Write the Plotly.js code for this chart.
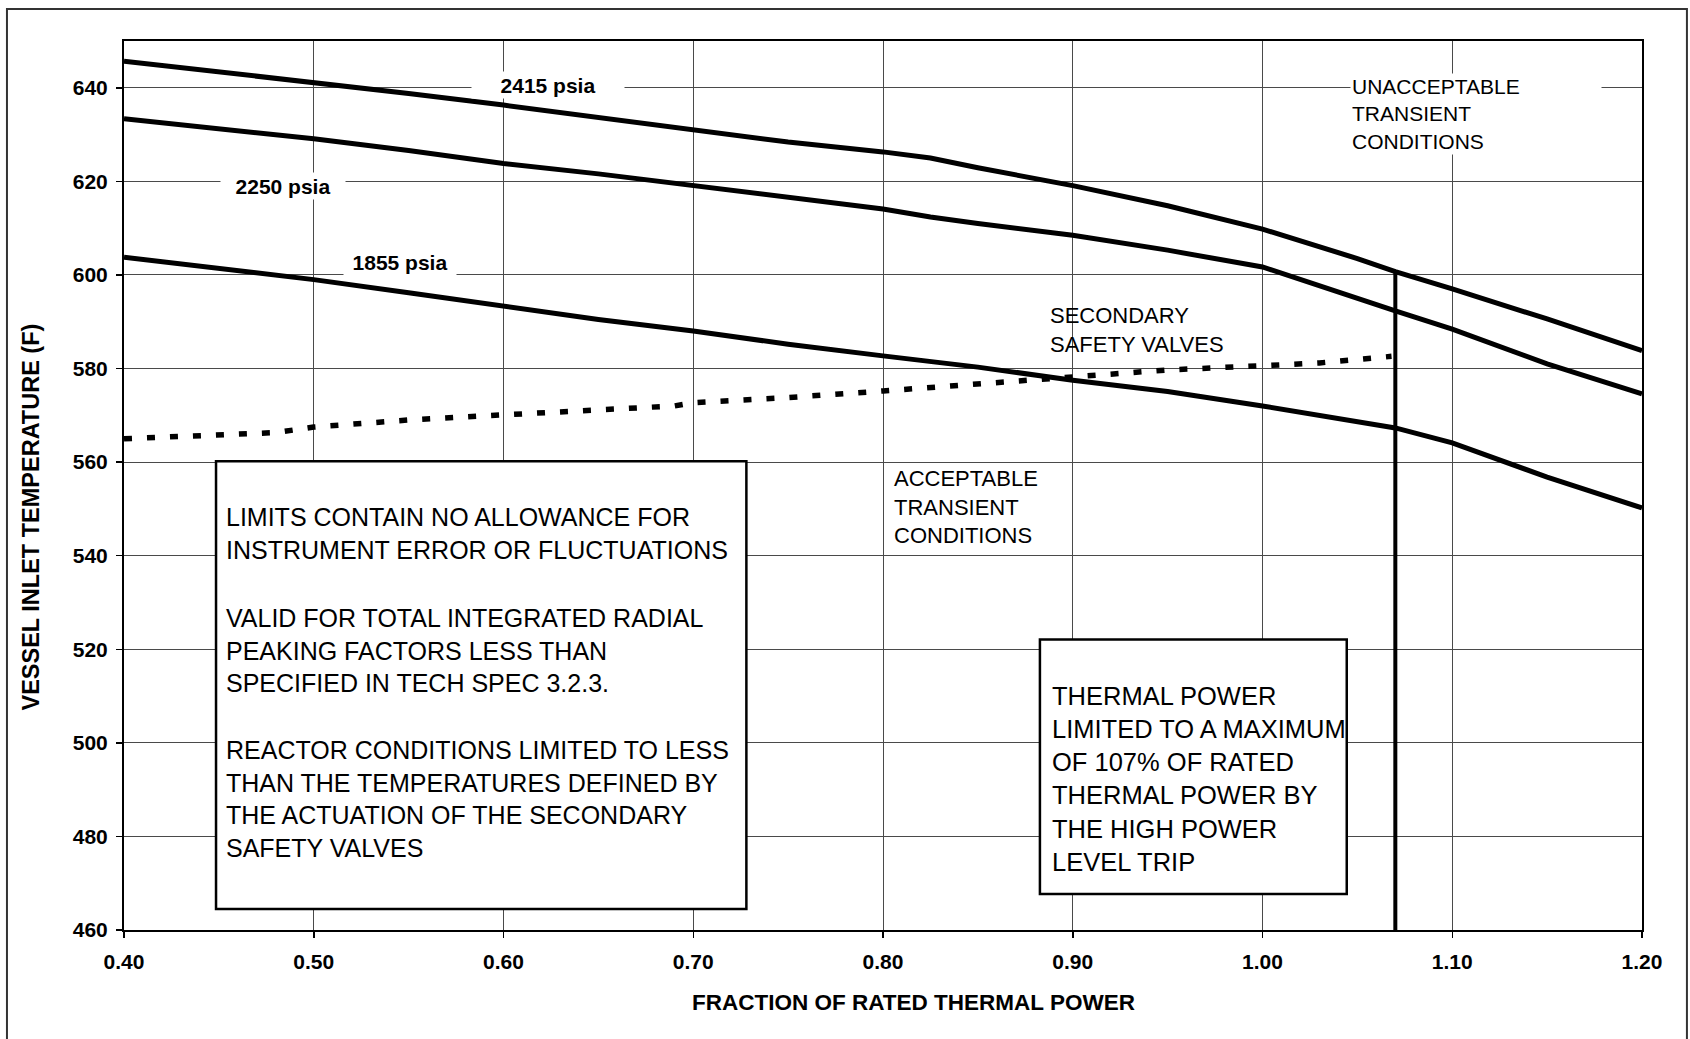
<!DOCTYPE html>
<html>
<head>
<meta charset="utf-8">
<script src="https://cdn.plot.ly/plotly-3.0.1.min.js"></script>
<style>
  html, body { margin: 0; padding: 0; background: #ffffff; }
  #chart { width: 1690px; height: 1039px; }
</style>
</head>
<body>
<div id="chart"></div>
<script>
// ---- data ----
const xPower   = [0.40, 0.45, 0.50, 0.55, 0.60, 0.65, 0.70, 0.75, 0.80, 0.825, 0.85, 0.90, 0.95, 1.00, 1.05, 1.07, 1.10, 1.15, 1.20];
const t2415    = [645.7, 643.4, 641.3, 638.8, 636.3, 633.6, 630.9, 628.4, 626.3, 625.0, 622.9, 619.1, 614.8, 609.8, 603.5, 600.7, 597.0, 590.6, 583.8];
const t2250    = [633.4, 631.3, 629.1, 626.6, 623.8, 621.6, 619.1, 616.4, 614.1, 612.4, 611.0, 608.5, 605.3, 601.7, 594.8, 592.3, 588.4, 581.0, 574.6];
const t1855    = [603.8, 601.3, 599.0, 596.2, 593.3, 590.5, 588.0, 585.2, 582.7, 581.5, 580.3, 577.5, 575.1, 572.0, 568.7, 567.3, 564.1, 556.8, 550.2];

const xValve   = [0.40, 0.45, 0.48, 0.50, 0.55, 0.60, 0.65, 0.69, 0.70, 0.75, 0.80, 0.85, 0.90, 0.95, 1.00, 1.03, 1.068];
const tValve   = [565.0, 565.9, 566.3, 567.5, 569.0, 570.1, 571.3, 572.0, 572.7, 573.8, 575.2, 576.7, 578.3, 579.7, 580.6, 581.2, 582.6];

const tripX    = [1.07, 1.07];
const tripY    = [460, 600.7];

const xTicks   = [0.40, 0.50, 0.60, 0.70, 0.80, 0.90, 1.00, 1.10, 1.20];
const yTicks   = [460, 480, 500, 520, 540, 560, 580, 600, 620, 640];

const seriesNames = ['2415 psia', '2250 psia', '1855 psia'];

const xTitle = 'FRACTION OF RATED THERMAL POWER';
const yTitle = 'VESSEL INLET TEMPERATURE (F)';

const noteLimits  = 'LIMITS CONTAIN NO ALLOWANCE FOR<br>INSTRUMENT ERROR OR FLUCTUATIONS';
const noteValid   = 'VALID FOR TOTAL INTEGRATED RADIAL<br>PEAKING FACTORS LESS THAN<br>SPECIFIED IN TECH SPEC 3.2.3.';
const noteReactor = 'REACTOR CONDITIONS LIMITED TO LESS<br>THAN THE TEMPERATURES DEFINED BY<br>THE ACTUATION OF THE SECONDARY<br>SAFETY VALVES';
const notePower   = 'THERMAL POWER<br>LIMITED TO A MAXIMUM<br>OF 107% OF RATED<br>THERMAL POWER BY<br>THE HIGH POWER<br>LEVEL TRIP';
const labelValves = 'SECONDARY<br>SAFETY VALVES';
const labelAccept = 'ACCEPTABLE<br>TRANSIENT<br>CONDITIONS';
const labelUnacc  = 'UNACCEPTABLE<br>TRANSIENT<br>CONDITIONS';

// ---- traces ----
const FONT = 'Liberation Sans, Arial, Helvetica, sans-serif';
const curveLine = { color: '#000000', width: 5 };

const traces = [
  { x: xPower, y: t2415, name: seriesNames[0], mode: 'lines', line: curveLine },
  { x: xPower, y: t2250, name: seriesNames[1], mode: 'lines', line: curveLine },
  { x: xPower, y: t1855, name: seriesNames[2], mode: 'lines', line: curveLine },
  { x: xValve, y: tValve, name: 'Secondary safety valves', mode: 'lines',
    line: { color: '#000000', width: 5.5, dash: '8px,15px' } },
  { x: tripX, y: tripY, name: 'High power level trip', mode: 'lines',
    line: { color: '#000000', width: 4 } }
];

// ---- layout ----
const ann = (text, x, y, opts) => Object.assign({
  text: text, x: x, y: y, xref: 'x', yref: 'y', showarrow: false,
  font: { family: FONT, size: 22, color: '#000000' }
}, opts || {});

const layout = {
  width: 1690, height: 1039,
  margin: { l: 124, r: 48, t: 41, b: 109 },
  paper_bgcolor: '#ffffff', plot_bgcolor: '#ffffff',
  showlegend: false,
  font: { family: FONT, color: '#000000' },
  xaxis: {
    range: [0.4, 1.2], tickvals: xTicks, tickformat: '.2f',
    showgrid: true, gridcolor: '#4a4a4a', gridwidth: 1, zeroline: false,
    showline: true, linecolor: '#000000', linewidth: 2, mirror: true,
    ticks: 'outside', ticklen: 6, tickcolor: '#000000', tickwidth: 1.5,
    tickfont: { family: FONT, size: 21, weight: 'bold', color: '#000000' },
    ticklabelstandoff: 6
  },
  yaxis: {
    range: [460, 650], tickvals: yTicks,
    showgrid: true, gridcolor: '#4a4a4a', gridwidth: 1, zeroline: false,
    showline: true, linecolor: '#000000', linewidth: 2, mirror: true,
    ticks: 'outside', ticklen: 6, tickcolor: '#000000', tickwidth: 1.5,
    tickfont: { family: FONT, size: 21, weight: 'bold', color: '#000000' },
    ticklabelstandoff: 4
  },
  shapes: [
    // outer frame of the figure
    { type: 'rect', xref: 'paper', yref: 'paper', x0: -0.0771, x1: 1.0296, y0: -0.15, y1: 1.036,
      line: { color: '#333333', width: 2 }, fillcolor: 'rgba(0,0,0,0)', layer: 'below' },
    // note boxes
    { type: 'rect', xref: 'x', yref: 'y', x0: 0.4485, x1: 0.728, y0: 464.5, y1: 560.2,
      line: { color: '#000000', width: 2.5 }, fillcolor: '#ffffff', layer: 'above' },
    { type: 'rect', xref: 'x', yref: 'y', x0: 0.8827, x1: 1.0444, y0: 467.7, y1: 522.1,
      line: { color: '#000000', width: 2.5 }, fillcolor: '#ffffff', layer: 'above' }
  ],
  annotations: [
    // axis titles
    { text: xTitle, xref: 'paper', yref: 'paper', x: 0.5204, y: -0.0821, showarrow: false,
      xanchor: 'center', yanchor: 'middle',
      font: { family: FONT, size: 22.5, weight: 'bold', color: '#000000' } },
    { text: yTitle, xref: 'paper', yref: 'paper', x: -0.0619, y: 0.464, showarrow: false,
      textangle: -90, xanchor: 'center', yanchor: 'middle',
      font: { family: FONT, size: 23.5, weight: 'bold', color: '#000000' } },
    // curve labels
    ann(seriesNames[0], 0.6234, 640.6, { bgcolor: '#ffffff', width: 150, height: 24,
      font: { family: FONT, size: 21, weight: 'bold', color: '#000000' } }),
    ann(seriesNames[1], 0.484, 619.1, { bgcolor: '#ffffff', width: 122, height: 24,
      font: { family: FONT, size: 21, weight: 'bold', color: '#000000' } }),
    ann(seriesNames[2], 0.5452, 602.8, { bgcolor: '#ffffff', width: 110, height: 24,
      font: { family: FONT, size: 21, weight: 'bold', color: '#000000' } }),
    // region labels
    ann(labelValves, 0.887, 588.3, { xanchor: 'left', align: 'left' }),
    ann(labelAccept, 0.805, 550.4, { xanchor: 'left', align: 'left' }),
    ann(labelUnacc, 1.0460, 634.5, { xanchor: 'left', align: 'left', bgcolor: '#ffffff',
      width: 248, font: { family: FONT, size: 21, color: '#000000' } }),
    // notes in boxes
    ann(noteLimits, 0.4525, 544.8, { xanchor: 'left', align: 'left',
      font: { family: FONT, size: 25, color: '#000000' } }),
    ann(noteValid, 0.4525, 519.8, { xanchor: 'left', align: 'left',
      font: { family: FONT, size: 25, color: '#000000' } }),
    ann(noteReactor, 0.4525, 488.0, { xanchor: 'left', align: 'left',
      font: { family: FONT, size: 25, color: '#000000' } }),
    ann(notePower, 0.888, 492.2, { xanchor: 'left', align: 'left',
      font: { family: FONT, size: 25.5, color: '#000000' } })
  ]
};

Plotly.newPlot('chart', traces, layout, { displayModeBar: false, staticPlot: true });
</script>
</body>
</html>
